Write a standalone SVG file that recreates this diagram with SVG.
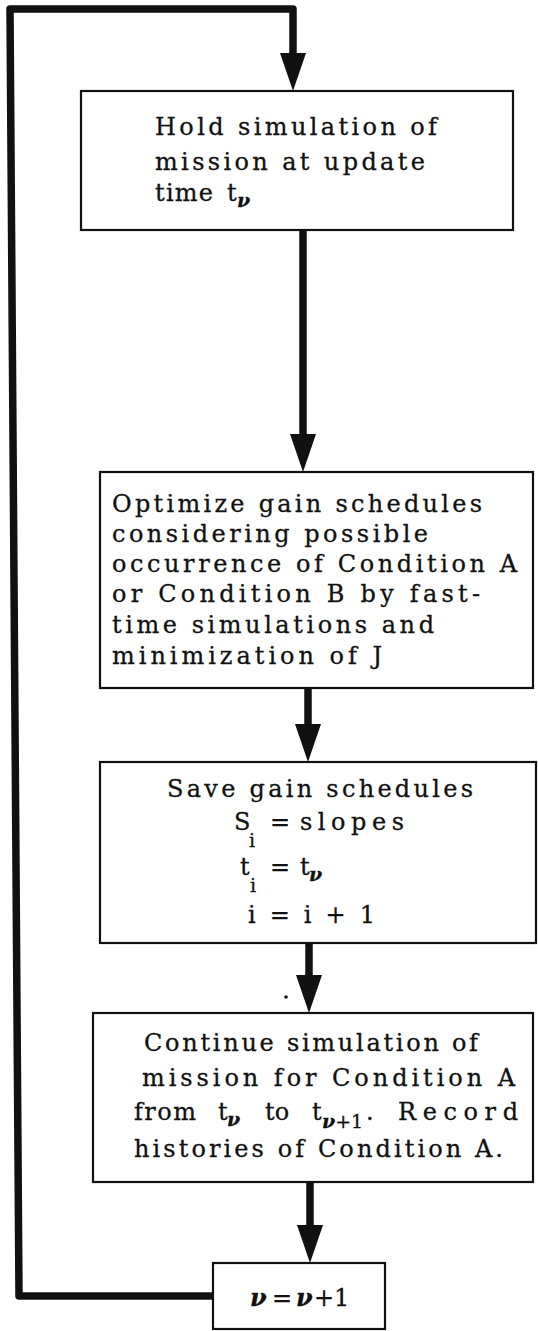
<svg xmlns="http://www.w3.org/2000/svg" width="538" height="1331" viewBox="0 0 538 1331">
<style>
  .box { fill: #fff; stroke: #111; stroke-width: 2.2; }
  .conn { fill: none; stroke: #111; stroke-width: 7.5; stroke-linejoin: round; marker-end: url(#head); }
  .t { font-family: "DejaVu Serif", "Liberation Serif", serif; font-size: 24px; fill: #111; stroke: #111; stroke-width: 0.3; }
  .sub { font-size: 19px; }
  .nu { font-style: italic; font-weight: bold; }
</style>
<defs>
  <marker id="head" markerUnits="userSpaceOnUse" markerWidth="40" markerHeight="26" refX="0" refY="13" orient="auto" viewBox="0 0 40 26">
    <path d="M0,0 L38,13 L0,26 z" fill="#111"/>
  </marker>
</defs>
<rect width="538" height="1331" fill="#fff"/>

<g id="connectors">
  <path class="conn" d="M213,1296 L19,1296 L10,9 L293,9 L293,53"/>
  <path class="conn" d="M303,230 L303,434"/>
  <path class="conn" d="M308,688 L308,724"/>
  <path class="conn" d="M309,943 L309,975"/>
  <path class="conn" d="M310,1182 L310,1225"/>
  <circle cx="286" cy="997" r="1.8" fill="#111"/>
</g>

<g id="hold">
  <rect class="box" x="81" y="91" width="432" height="139"/>
  <text class="t" x="155" y="135" textLength="282" lengthAdjust="spacing">Hold simulation of</text>
  <text class="t" x="155" y="170" textLength="270" lengthAdjust="spacing">mission at update</text>
  <text class="t" x="155" y="201" textLength="58" lengthAdjust="spacing">time</text>
  <text class="t" x="227" y="201">t</text>
  <text class="t sub nu" x="237" y="207">ν</text>
</g>

<g id="optimize">
  <rect class="box" x="100" y="472" width="433" height="216"/>
  <text class="t" x="112" y="512" textLength="370" lengthAdjust="spacing">Optimize gain schedules</text>
  <text class="t" x="112" y="542" textLength="316" lengthAdjust="spacing">considering possible</text>
  <text class="t" x="112" y="572" textLength="405" lengthAdjust="spacing">occurrence of Condition A</text>
  <text class="t" x="112" y="602" textLength="368" lengthAdjust="spacing">or Condition B by fast-</text>
  <text class="t" x="112" y="633" textLength="322" lengthAdjust="spacing">time simulations and</text>
  <text class="t" x="112" y="664" textLength="270" lengthAdjust="spacing">minimization of J</text>
</g>

<g id="save">
  <rect class="box" x="100" y="762" width="436" height="181"/>
  <text class="t" x="167" y="797" textLength="306" lengthAdjust="spacing">Save gain schedules</text>
  <text class="t" x="234" y="830">S</text>
  <text class="t sub" x="249" y="847">i</text>
  <text class="t" x="270" y="830">=</text>
  <text class="t" x="300" y="830" textLength="104" lengthAdjust="spacing">slopes</text>
  <text class="t" x="240" y="875">t</text>
  <text class="t sub" x="250" y="892">i</text>
  <text class="t" x="270" y="875">=</text>
  <text class="t" x="300" y="875">t</text>
  <text class="t sub nu" x="309" y="881">ν</text>
  <text class="t" x="248" y="923" textLength="127" lengthAdjust="spacing">i = i + 1</text>
</g>

<g id="continue">
  <rect class="box" x="93" y="1013" width="440" height="169"/>
  <text class="t" x="144" y="1051" textLength="334" lengthAdjust="spacing">Continue simulation of</text>
  <text class="t" x="142" y="1086" textLength="373" lengthAdjust="spacing">mission for Condition A</text>
  <text class="t" x="134" y="1120" textLength="62" lengthAdjust="spacing">from</text>
  <text class="t" x="218" y="1120">t</text>
  <text class="t sub nu" x="227" y="1126">ν</text>
  <text class="t" x="265" y="1120">to</text>
  <text class="t" x="312" y="1120">t</text>
  <text class="t sub" x="322" y="1128"><tspan class="nu">ν</tspan>+1</text>
  <text class="t" x="366" y="1120">.</text>
  <text class="t" x="398" y="1120" textLength="120" lengthAdjust="spacing">Record</text>
  <text class="t" x="134" y="1157" textLength="369" lengthAdjust="spacing">histories of Condition A.</text>
</g>

<g id="increment">
  <rect class="box" x="213" y="1263" width="172" height="66"/>
  <text class="t" y="1306"><tspan class="nu" x="250">ν</tspan><tspan x="272">=</tspan><tspan class="nu" x="296">ν</tspan><tspan x="314">+1</tspan></text>
</g>
</svg>
